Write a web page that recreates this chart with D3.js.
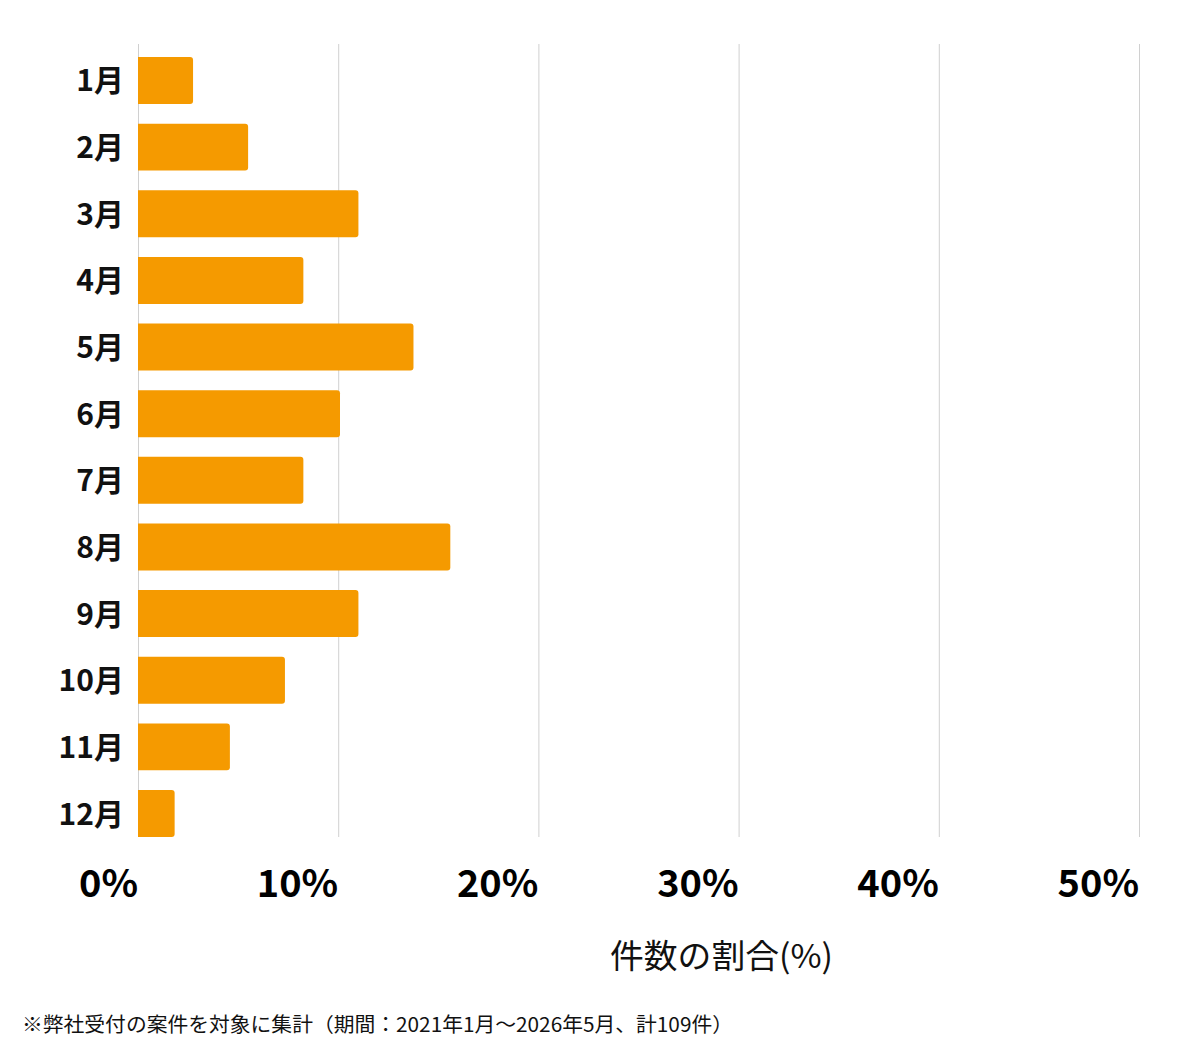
<!DOCTYPE html>
<html><head><meta charset="utf-8">
<script src="https://cdn.jsdelivr.net/npm/d3@7/dist/d3.min.js"></script>
<style>body{margin:0;background:#fff;} svg{display:block;}</style>
</head><body>
<svg id="c" width="1200" height="1060"></svg>
<script>
const months = ["1月","2月","3月","4月","5月","6月","7月","8月","9月","10月","11月","12月"];
const shares = [2.75, 5.50, 11.01, 8.26, 13.76, 10.09, 8.26, 15.60, 11.01, 7.34, 4.59, 1.83];
const xTicks = [0, 10, 20, 30, 40, 50];
const xTitle = "件数の割合(%)";
const note = "※弊社受付の案件を対象に集計（期間：2021年1月～2026年5月、計109件）";

const svg = d3.select("#c");
const font = "'Noto Sans CJK JP','Noto Sans',sans-serif";
const x = d3.scaleLinear().domain([0, 50]).range([138, 1139]);
const y = d3.scaleBand().domain(months).range([57, 837]).paddingInner(0.295).paddingOuter(0);

// gridlines
svg.append("g").selectAll("line").data(xTicks).join("line")
  .attr("x1", d => x(d) + 0.5).attr("x2", d => x(d) + 0.5)
  .attr("y1", 44).attr("y2", 837)
  .attr("stroke", "#d0d0d0").attr("stroke-width", 1);

// bars
svg.append("g").selectAll("path").data(shares).join("path")
  .attr("fill", "#F59A00")
  .attr("d", (d, i) => {
    const x0 = x(0), x1 = x(d), y0 = y(months[i]), h = y.bandwidth(), r = 3;
    return `M${x0},${y0}H${x1 - r}Q${x1},${y0} ${x1},${y0 + r}V${y0 + h - r}Q${x1},${y0 + h} ${x1 - r},${y0 + h}H${x0}Z`;
  });

// y labels
svg.append("g").selectAll("text").data(months).join("text")
  .attr("x", 124).attr("y", d => y(d) + y.bandwidth() / 2 + 11)
  .attr("text-anchor", "end").attr("font-family", font).attr("font-weight", 700)
  .attr("font-size", 30).attr("fill", "#111").text(d => d);

// x tick labels
svg.append("g").selectAll("text").data(xTicks).join("text")
  .attr("x", d => x(d)).attr("y", 897)
  .attr("text-anchor", "end").attr("font-family", font).attr("font-weight", 700)
  .attr("font-size", 38).attr("fill", "#000").text(d => d + "%");

// axis title
svg.append("text").attr("x", 610).attr("y", 968)
  .attr("font-family", font).attr("font-size", 33).attr("fill", "#111")
  .attr("textLength", 223).attr("lengthAdjust", "spacingAndGlyphs").text(xTitle);

// footnote
svg.append("text").attr("x", 22).attr("y", 1032)
  .attr("font-family", font).attr("font-size", 20).attr("fill", "#111")
  .attr("textLength", 711).attr("lengthAdjust", "spacingAndGlyphs").text(note);
</script>
</body></html>
